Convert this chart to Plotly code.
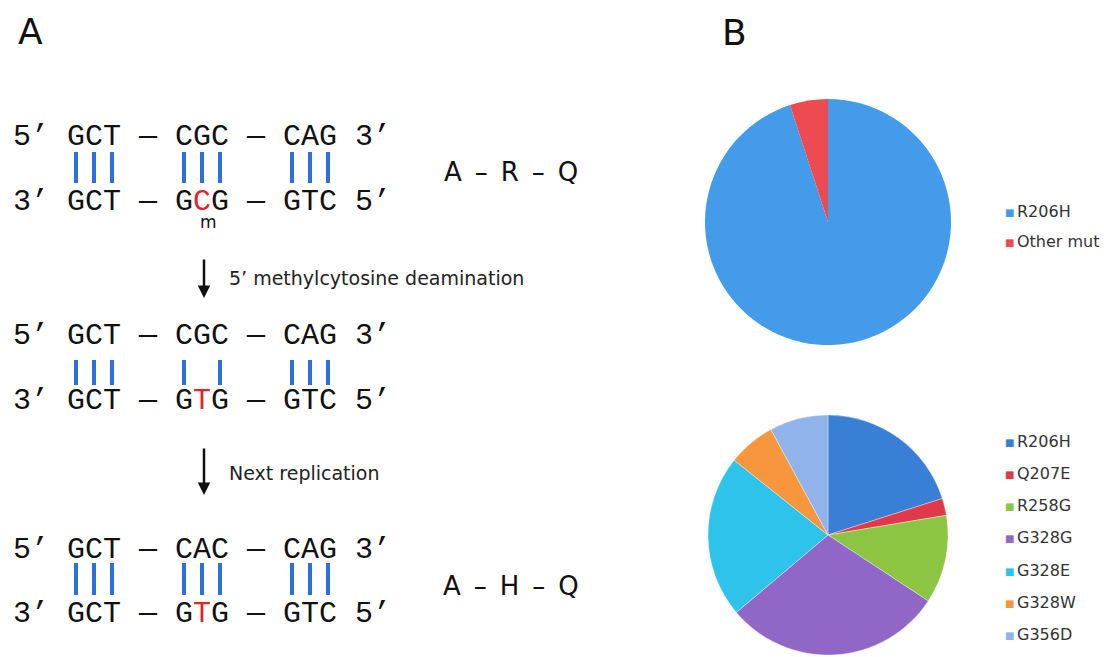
import plotly.graph_objects as go

W, H = 1104, 657

# ---------------- Panel A data ----------------
top_strands = ["5’ GCT — CGC — CAG 3’",
               "5’ GCT — CGC — CAG 3’",
               "5’ GCT — CAC — CAG 3’"]
bottom_strands = ["3’ GCT — GCG — GTC 5’",
                  "3’ GCT — GTG — GTC 5’",
                  "3’ GCT — GTG — GTC 5’"]
hbonds = [[3, 3, 3], [3, 2, 3], [3, 3, 3]]     # hydrogen bonds per codon
mutated_base = 10                               # index of the highlighted base in bottom strand
protein_labels = ["A\u2002–\u2002R\u2002–\u2002Q", None, "A\u2002–\u2002H\u2002–\u2002Q"]
step_labels = ["5’ methylcytosine deamination", "Next replication"]

# ---------------- Panel B data ----------------
pie1_labels = ["R206H", "Other mut"]
pie1_values = [95, 5]
pie1_colors = ["#449be9", "#ee4a51"]

pie2_labels = ["R206H", "Q207E", "R258G", "G328G", "G328E", "G328W", "G356D"]
pie2_values = [20.1, 2.3, 11.9, 29.6, 21.9, 6.4, 7.9]
pie2_colors = ["#3a7fd6", "#e2394a", "#8cc542", "#9066c6", "#2ec3ea", "#f7963c", "#8fb3ea"]

# ---------------- layout geometry ----------------
x0, cw = 11, 18                 # left of strand text, monospace char width
row_top_y = [137, 336, 550]
row_bot_y = [202, 401, 614]
bar_y = [(152, 183), (360, 385), (563, 595)]
codon_start = [3, 9, 15]
protein_y = [172, None, 586]
arrow_spans = [(258, 298), (447, 495)]
arrow_x = 204
step_y = [278, 473]

mono = "Liberation Mono"
sans = "DejaVu Sans"
red = "#e0262b"
blue = "#2f6fdc"

fig = go.Figure()
ann = []

# hydrogen-bond bars
bx, by = [], []
for r, row in enumerate(hbonds):
    y1, y2 = bar_y[r]
    for k, n in enumerate(row):
        idxs = [0, 1, 2] if n == 3 else [0, 2]
        for i in idxs:
            cx = x0 + 2 + (codon_start[k] + i) * cw + cw / 2
            bx += [cx, cx, None]
            by += [y1, y2, None]
fig.add_trace(go.Scatter(x=bx, y=by, mode="lines",
                         line=dict(color=blue, width=4),
                         hoverinfo="skip", showlegend=False))

# strands
for r in range(3):
    ann.append(dict(x=x0, y=row_top_y[r], text=top_strands[r], xanchor="left",
                    yanchor="middle", font=dict(family=mono, size=30, color="#111")))
    s = bottom_strands[r]
    i = mutated_base
    txt = s[:i] + f'<span style="color:{red}">' + s[i] + "</span>" + s[i + 1:]
    ann.append(dict(x=x0, y=row_bot_y[r], text=txt, xanchor="left",
                    yanchor="middle", font=dict(family=mono, size=30, color="#111")))
    if protein_labels[r]:
        ann.append(dict(x=511, y=protein_y[r], text=protein_labels[r], xanchor="center",
                        yanchor="middle", font=dict(family=sans, size=26, color="#111")))

# methyl mark
ann.append(dict(x=208, y=222, text="m", xanchor="center", yanchor="middle",
                font=dict(family=sans, size=17, color="#111")))

# arrows + step labels
for (ya, yb), ly, lab in zip(arrow_spans, step_y, step_labels):
    ann.append(dict(x=arrow_x, y=yb, ax=arrow_x, ay=ya, axref="x", ayref="y",
                    text="", showarrow=True, arrowhead=2, arrowsize=1,
                    arrowwidth=2.5, arrowcolor="#111", standoff=0))
    ann.append(dict(x=227, y=ly, text=lab, xanchor="left", yanchor="middle",
                    font=dict(family=sans, size=19, color="#222")))

# panel letters
ann.append(dict(x=30, y=31, text="A", xanchor="center", yanchor="middle",
                font=dict(family=sans, size=36, color="#111")))
ann.append(dict(x=734, y=32, text="B", xanchor="center", yanchor="middle",
                font=dict(family=sans, size=36, color="#111")))

# pies
fig.add_trace(go.Pie(labels=pie1_labels, values=pie1_values, sort=False,
                     direction="clockwise", rotation=0, textinfo="none",
                     marker=dict(colors=pie1_colors, line=dict(width=0)),
                     domain=dict(x=[705 / W, 951 / W], y=[1 - 345 / H, 1 - 99 / H]),
                     showlegend=False))
fig.add_trace(go.Pie(labels=pie2_labels, values=pie2_values, sort=False,
                     direction="clockwise", rotation=0, textinfo="none",
                     marker=dict(colors=pie2_colors, line=dict(width=0.6, color="rgba(255,255,255,0.6)")),
                     domain=dict(x=[708 / W, 948 / W], y=[1 - 655 / H, 1 - 415 / H]),
                     showlegend=False))

# legends (as annotations)
def legend(labels, colors, y_start, gap):
    for i, (lab, col) in enumerate(zip(labels, colors)):
        yy = y_start + i * gap
        ann.append(dict(x=1009, y=yy + 1, text="■", xanchor="center", yanchor="middle",
                        font=dict(family=sans, size=10, color=col)))
        ann.append(dict(x=1015, y=yy, text=lab, xanchor="left", yanchor="middle",
                        font=dict(family=sans, size=16, color="#333")))

legend(pie1_labels, pie1_colors, 211, 30)
legend(pie2_labels, pie2_colors, 441, 32.3)

for a in ann:
    a.setdefault("showarrow", False)
    a.setdefault("xref", "x")
    a.setdefault("yref", "y")

fig.update_layout(
    width=W, height=H,
    margin=dict(l=0, r=0, t=0, b=0),
    paper_bgcolor="white", plot_bgcolor="white",
    xaxis=dict(range=[0, W], visible=False, fixedrange=True),
    yaxis=dict(range=[H, 0], visible=False, fixedrange=True),
    annotations=ann,
)

fig.write_html("out.html", config={"displayModeBar": False},
               post_script="document.body.style.margin='0';document.body.style.overflow='hidden';")
